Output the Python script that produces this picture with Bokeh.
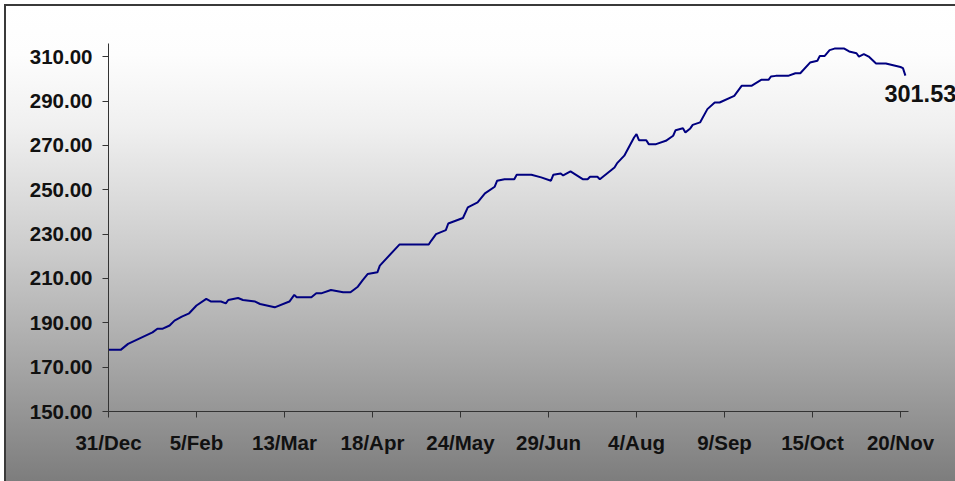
from bokeh.plotting import figure
from bokeh.models import Range1d, FixedTicker, PrintfTickFormatter, Label
from bokeh.embed import file_html
from bokeh.resources import INLINE

# ---- data ----
# days since 31/Dec
days = [0, 5, 8, 18, 20, 22, 25, 27, 30, 33, 36, 40, 42, 46, 48, 49, 53, 55, 60, 62,
        68, 74, 76, 77, 83, 85, 87, 91, 96, 99, 102, 104, 106, 110, 111, 119, 131, 132,
        134, 138, 139, 145, 147, 151, 154, 158, 159, 162, 166, 167, 173, 177, 181, 182,
        185, 186, 189, 194, 196, 197, 200, 201, 207, 208, 211, 215, 216, 217, 220, 221,
        224, 228, 231, 232, 235, 236, 238, 239, 242, 245, 248, 250, 256, 259, 263, 267,
        270, 271, 273, 278, 281, 283, 287, 290, 291, 293, 295, 297, 301, 303, 306, 307,
        309, 311, 314, 318, 324, 325, 326]
prices = [177.8, 177.8, 180.5, 185.7, 187.3, 187.3, 188.8, 191.0, 192.8, 194.3, 197.8,
          200.8, 199.6, 199.6, 198.8, 200.3, 201.2, 200.3, 199.6, 198.5, 197.0, 199.6,
          202.6, 201.5, 201.5, 203.3, 203.3, 204.8, 203.8, 203.8, 206.3, 209.3, 212.0,
          212.8, 215.8, 225.3, 225.3, 227.0, 230.0, 231.8, 234.8, 237.3, 242.1, 244.3,
          248.4, 251.4, 254.1, 254.8, 254.8, 256.8, 256.8, 255.6, 254.1, 256.8, 257.4,
          256.5, 258.3, 254.8, 254.8, 255.9, 255.9, 254.8, 260.1, 261.9, 265.4, 273.6,
          275.1, 272.4, 272.4, 270.6, 270.6, 272.1, 274.4, 276.9, 277.8, 275.9, 277.7,
          279.3, 280.4, 286.4, 289.4, 289.4, 292.4, 296.9, 296.9, 299.6, 299.6, 301.1,
          301.4, 301.4, 302.6, 302.6, 307.4, 308.2, 310.4, 310.4, 313.0, 313.7, 313.7,
          312.4, 311.6, 310.1, 311.2, 310.1, 307.0, 307.0, 305.4, 304.9, 301.53]
tick_days = [0, 36, 72, 108, 144, 180, 216, 252, 288, 324]
tick_labels = ["31/Dec", "5/Feb", "13/Mar", "18/Apr", "24/May", "29/Jun",
               "4/Aug", "9/Sep", "15/Oct", "20/Nov"]
y_ticks = [150, 170, 190, 210, 230, 250, 270, 290, 310]
x_axis_end = 327.3

FONT = "Liberation Sans"

p = figure(width=955, height=481, output_backend="svg", toolbar_location=None,
           x_range=Range1d(0, 346.5), y_range=Range1d(150, 316),
           min_border_left=108, min_border_right=0, min_border_top=43,
           min_border_bottom=70)
p.border_fill_color = None
p.background_fill_color = None
p.outline_line_color = None
p.styles = {
    "background": (
        "linear-gradient(#3a3a3a, #3a3a3a) 4px 4px / 100% 2px no-repeat, "
        "linear-gradient(#3a3a3a, #3a3a3a) 4px 4px / 2px 100% no-repeat, "
        "linear-gradient(to bottom, #ffffff 0%, #fdfdfd 10%, #f0f0f0 25%, #cdcdcd 50%, "
        "#a5a5a5 75%, #7b7b7b 100%) 6px 6px / 100% 100% no-repeat, #ffffff"
    ),
}
p.grid.visible = False

for ax in (p.xaxis, p.yaxis):
    ax.axis_line_color = "#333333"
    ax.axis_line_width = 1
    ax.major_tick_line_color = "#333333"
    ax.major_tick_in = 0
    ax.major_tick_out = 6
    ax.minor_tick_line_color = None
    ax.major_label_text_font = FONT
    ax.major_label_text_font_style = "bold"
    ax.major_label_text_font_size = "20.5px"
    ax.major_label_text_color = "#111111"

p.xaxis.ticker = FixedTicker(ticks=tick_days)
p.xaxis.bounds = (0, x_axis_end)
p.xaxis.major_label_overrides = {d: l for d, l in zip(tick_days, tick_labels)}
p.xaxis.major_label_standoff = 13
p.yaxis.ticker = FixedTicker(ticks=y_ticks)
p.yaxis.formatter = PrintfTickFormatter(format="%.2f")
p.yaxis.major_label_standoff = 10

p.line(days, prices, line_color="#000080", line_width=2)

p.add_layout(Label(x=days[-1], y=prices[-1], text=f"{prices[-1]:.2f}",
                   text_font=FONT, text_font_style="bold", text_font_size="23.5px",
                   text_color="#111111", text_baseline="top", text_align="left",
                   x_offset=-21, y_offset=-9))

open("out.html", "w").write(file_html(p, INLINE))
